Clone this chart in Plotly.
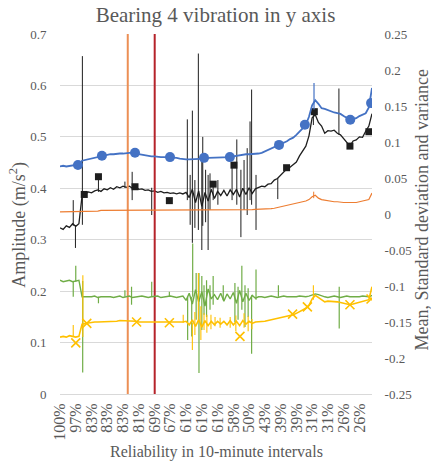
import plotly.graph_objects as go

# ---------------- data ----------------
x_tick_idx = [0, 5, 10, 15, 20, 25, 30, 35, 40, 45, 50, 55, 60, 65, 70, 75, 80, 85, 90, 95]
x_tick_labels = ["100%", "97%", "83%", "83%", "83%", "81%", "69%", "67%", "61%", "61%",
                 "61%", "58%", "50%", "43%", "39%", "39%", "31%", "31%", "26%", "26%"]

left_tickvals = [0, 0.1, 0.2, 0.3, 0.4, 0.5, 0.6, 0.7]
left_ticktext = ["0", "0.1", "0.2", "0.3", "0.4", "0.5", "0.6", "0.7"]
right_tickvals = [-0.25, -0.2, -0.15, -0.1, -0.05, 0, 0.05, 0.1, 0.15, 0.2, 0.25]
right_ticktext = ["-0.25", "-0.2", "-0.15", "-0.1", "-0.05", "0", "0.05", "0.1", "0.15", "0.2", "0.25"]

# amplitude (left axis)
black = [0.323, 0.320, 0.327, 0.324, 0.331, 0.326, 0.331, 0.385, 0.389, 0.393,
         0.391, 0.395, 0.397, 0.394, 0.399, 0.397, 0.401, 0.398, 0.403, 0.401,
         0.404, 0.402, 0.404, 0.400, 0.403, 0.398, 0.399, 0.396, 0.397, 0.394,
         0.395, 0.392, 0.394, 0.391, 0.392, 0.390, 0.391, 0.389, 0.391, 0.389,
         0.392, 0.382, 0.398, 0.372, 0.395, 0.365, 0.392, 0.375, 0.398, 0.380,
         0.394, 0.386, 0.396, 0.385, 0.397, 0.388, 0.398, 0.383, 0.400, 0.388,
         0.401, 0.390, 0.399, 0.401, 0.404, 0.403, 0.408, 0.409, 0.416, 0.419,
         0.426, 0.432, 0.438, 0.441, 0.447, 0.451, 0.463, 0.472, 0.482, 0.502,
         0.537, 0.543, 0.528, 0.521, 0.507, 0.512, 0.511, 0.513, 0.507, 0.504,
         0.496, 0.490, 0.482, 0.492, 0.494, 0.500, 0.499, 0.511, 0.521, 0.545]
black_spike_x = [4.2, 4.9, 7.1, 12.2, 20.6, 22.9, 29.1, 40.4, 41.3, 42.0, 42.8, 43.9, 45.0,
                 45.3, 46.2, 47.0, 47.6, 48.6, 50.1, 54.6, 56.1, 57.4, 58.4, 59.4, 60.3,
                 60.8, 62.2, 69.1, 80.4, 88.5]
black_spike_lo = [0.327, 0.284, 0.329, 0.393, 0.401, 0.377, 0.348, 0.377, 0.329, 0.294, 0.323,
                  0.319, 0.280, 0.327, 0.334, 0.280, 0.358, 0.377, 0.368, 0.377, 0.368, 0.305,
                  0.358, 0.348, 0.377, 0.368, 0.319, 0.379, 0.523, 0.504]
black_spike_hi = [0.377, 0.327, 0.657, 0.423, 0.413, 0.432, 0.401, 0.534, 0.426, 0.551, 0.416,
                  0.662, 0.455, 0.500, 0.436, 0.426, 0.429, 0.408, 0.416, 0.445, 0.495, 0.436,
                  0.455, 0.478, 0.530, 0.592, 0.426, 0.420, 0.556, 0.594]
black_mark_x = [7.7, 12.2, 23.8, 34.7, 48.6, 55.2, 71.9, 80.7, 92.0, 98.0]
black_mark_y = [0.388, 0.4225, 0.403, 0.376, 0.408, 0.445, 0.440, 0.549, 0.482, 0.510]

# mean / std / variance (right axis)
blue = [0.066, 0.067, 0.066, 0.067, 0.068, 0.068, 0.069, 0.074, 0.075, 0.076,
        0.078, 0.079, 0.080, 0.081, 0.081, 0.082, 0.083, 0.083, 0.084, 0.084,
        0.084, 0.085, 0.085, 0.085, 0.085, 0.083, 0.082, 0.081, 0.080, 0.080,
        0.080, 0.079, 0.079, 0.079, 0.079, 0.079, 0.079, 0.078, 0.077, 0.076,
        0.076, 0.076, 0.076, 0.077, 0.077, 0.077, 0.077, 0.078, 0.078, 0.078,
        0.079, 0.078, 0.079, 0.079, 0.079, 0.080, 0.081, 0.081, 0.082, 0.083,
        0.083, 0.083, 0.084, 0.084, 0.085, 0.087, 0.089, 0.091, 0.093, 0.094,
        0.096, 0.099, 0.101, 0.104, 0.106, 0.110, 0.114, 0.119, 0.124, 0.135,
        0.151, 0.158, 0.153, 0.147, 0.146, 0.144, 0.142, 0.141, 0.140, 0.139,
        0.136, 0.133, 0.131, 0.132, 0.133, 0.136, 0.138, 0.140, 0.148, 0.175]
blue_spike_x = [80.6]
blue_spike_lo = [0.145]
blue_spike_hi = [0.182]
blue_mark_x = [5.7, 13.3, 23.8, 34.9, 45.7, 53.9, 69.5, 77.7, 92.1, 98.7]
blue_mark_y = [0.068, 0.081, 0.085, 0.079, 0.078, 0.079, 0.096, 0.124, 0.131, 0.154]

orange = [0.003, 0.003, 0.003, 0.003, 0.003, 0.003, 0.003, 0.004, 0.004, 0.004,
          0.004, 0.004, 0.004, 0.005, 0.005, 0.005, 0.005, 0.005, 0.005, 0.005,
          0.005, 0.006, 0.006, 0.006, 0.006, 0.006, 0.006, 0.006, 0.006, 0.006,
          0.006, 0.006, 0.006, 0.006, 0.006, 0.006, 0.006, 0.006, 0.006, 0.006,
          0.006, 0.006, 0.006, 0.006, 0.006, 0.006, 0.006, 0.006, 0.006, 0.006,
          0.006, 0.006, 0.006, 0.006, 0.006, 0.006, 0.006, 0.006, 0.006, 0.006,
          0.006, 0.006, 0.0065, 0.0065, 0.0065, 0.0065, 0.007, 0.0075, 0.008, 0.009,
          0.0095, 0.010, 0.011, 0.012, 0.013, 0.014, 0.015, 0.016, 0.018, 0.020,
          0.024, 0.026, 0.022, 0.020, 0.019, 0.019, 0.018, 0.017, 0.017, 0.016,
          0.016, 0.016, 0.0155, 0.016, 0.016, 0.017, 0.017, 0.018, 0.020, 0.029]
orange_spike_x = [80.5]
orange_spike_lo = [0.022]
orange_spike_hi = [0.031]

green = [-0.092, -0.094, -0.093, -0.092, -0.094, -0.093, -0.092, -0.115, -0.115, -0.116,
         -0.115, -0.114, -0.116, -0.115, -0.115, -0.114, -0.115, -0.116, -0.115, -0.114,
         -0.116, -0.115, -0.114, -0.116, -0.115, -0.115, -0.114, -0.115, -0.116, -0.115,
         -0.115, -0.114, -0.116, -0.115, -0.115, -0.114, -0.115, -0.116, -0.115, -0.114,
         -0.120, -0.110, -0.125, -0.105, -0.122, -0.108, -0.128, -0.104, -0.118, -0.112,
         -0.119, -0.110, -0.121, -0.111, -0.118, -0.109, -0.124, -0.106, -0.122, -0.110,
         -0.120, -0.113, -0.117, -0.115, -0.115, -0.116, -0.115, -0.114, -0.115, -0.116,
         -0.115, -0.114, -0.115, -0.115, -0.116, -0.115, -0.114, -0.115, -0.115, -0.114,
         -0.113, -0.111, -0.112, -0.114, -0.115, -0.116, -0.115, -0.114, -0.115, -0.116,
         -0.115, -0.114, -0.115, -0.115, -0.116, -0.115, -0.114, -0.115, -0.115, -0.113]
green_spike_x = [4.2, 5.0, 7.2, 12.2, 20.6, 22.7, 29.1, 34.7, 40.5, 41.8, 42.1, 43.2, 44.1,
                 45.0, 45.7, 46.5, 47.6, 48.6, 51.8, 55.5, 56.5, 57.7, 58.7, 59.7, 60.8,
                 62.2, 69.3, 88.6]
green_spike_lo = [-0.115, -0.094, -0.220, -0.124, -0.115, -0.126, -0.115, -0.115, -0.175,
                  -0.170, -0.115, -0.147, -0.221, -0.161, -0.140, -0.143, -0.133, -0.126,
                  -0.119, -0.150, -0.147, -0.133, -0.157, -0.143, -0.194, -0.119, -0.115,
                  -0.159]
green_spike_hi = [-0.093, -0.072, -0.093, -0.115, -0.106, -0.101, -0.094, -0.108, -0.115,
                  -0.115, -0.041, -0.082, -0.082, -0.086, -0.099, -0.092, -0.099, -0.086,
                  -0.099, -0.096, -0.101, -0.072, -0.099, -0.103, -0.113, -0.077, -0.099,
                  -0.101]

yellow = [-0.171, -0.170, -0.171, -0.169, -0.170, -0.171, -0.170, -0.153, -0.152, -0.151,
          -0.151, -0.150, -0.150, -0.150, -0.150, -0.149, -0.149, -0.149, -0.149, -0.148,
          -0.148, -0.148, -0.148, -0.149, -0.149, -0.150, -0.150, -0.150, -0.151, -0.151,
          -0.151, -0.151, -0.151, -0.151, -0.151, -0.151, -0.150, -0.151, -0.151, -0.150,
          -0.149, -0.154, -0.147, -0.156, -0.147, -0.157, -0.148, -0.155, -0.149, -0.154,
          -0.149, -0.153, -0.149, -0.154, -0.148, -0.154, -0.149, -0.155, -0.148, -0.153,
          -0.149, -0.152, -0.150, -0.150, -0.149, -0.149, -0.148, -0.147, -0.147, -0.146,
          -0.145, -0.143, -0.142, -0.141, -0.140, -0.138, -0.136, -0.134, -0.131, -0.127,
          -0.118, -0.113, -0.116, -0.120, -0.122, -0.121, -0.121, -0.122, -0.122, -0.123,
          -0.124, -0.125, -0.126, -0.125, -0.124, -0.123, -0.122, -0.121, -0.119, -0.101]
yellow_spike_x = [4.2, 7.25, 39.1, 42.0, 42.8, 43.9, 44.7, 45.7, 46.6, 47.9, 49.2, 50.8,
                  54.0, 55.8, 58.4, 59.7, 60.9, 80.4]
yellow_spike_lo = [-0.171, -0.171, -0.151, -0.189, -0.168, -0.150, -0.175, -0.161, -0.165,
                   -0.160, -0.156, -0.158, -0.158, -0.163, -0.158, -0.163, -0.160, -0.119]
yellow_spike_hi = [-0.154, -0.085, -0.140, -0.151, -0.136, -0.082, -0.128, -0.138, -0.140,
                   -0.140, -0.143, -0.144, -0.143, -0.141, -0.138, -0.142, -0.146, -0.099]
yellow_mark_x = [5.0, 8.5, 24.3, 34.7, 57.1, 73.8, 78.5, 92.0, 98.7]
yellow_mark_y = [-0.179, -0.152, -0.150, -0.151, -0.170, -0.139, -0.129, -0.126, -0.118]

# vertical reference lines (x position in interval index)
vline_x = [21.5, 30.05]
vline_colors = ["#EC8F55", "#B5232A"]

# ---------------- figure ----------------
idx = list(range(len(black)))

C_BLUE = "#4472C4"
C_BLACK = "#1E1E1E"
C_ORANGE = "#ED7D31"
C_GREEN = "#70AD47"
C_YELLOW = "#FFC000"
FONT = "Liberation Serif, Times New Roman, serif"
TXT = "#595959"


def spikes(xs, lo, hi):
    sx, sy = [], []
    for a, b, c in zip(xs, lo, hi):
        sx += [a, a, None]
        sy += [b, c, None]
    return sx, sy


fig = go.Figure()

# right axis series
fig.add_trace(go.Scatter(x=idx, y=orange, mode="lines", yaxis="y2",
                         line=dict(color=C_ORANGE, width=1.2)))
sx, sy = spikes(orange_spike_x, orange_spike_lo, orange_spike_hi)
fig.add_trace(go.Scatter(x=sx, y=sy, mode="lines", yaxis="y2",
                         line=dict(color=C_ORANGE, width=1)))

fig.add_trace(go.Scatter(x=idx, y=blue, mode="lines", yaxis="y2",
                         line=dict(color=C_BLUE, width=1.8)))
sx, sy = spikes(blue_spike_x, blue_spike_lo, blue_spike_hi)
fig.add_trace(go.Scatter(x=sx, y=sy, mode="lines", yaxis="y2",
                         line=dict(color=C_BLUE, width=1.2)))

fig.add_trace(go.Scatter(x=idx, y=green, mode="lines", yaxis="y2",
                         line=dict(color=C_GREEN, width=1.4)))
sx, sy = spikes(green_spike_x, green_spike_lo, green_spike_hi)
fig.add_trace(go.Scatter(x=sx, y=sy, mode="lines", yaxis="y2",
                         line=dict(color=C_GREEN, width=1.2)))

fig.add_trace(go.Scatter(x=idx, y=yellow, mode="lines", yaxis="y2",
                         line=dict(color=C_YELLOW, width=1.6)))
sx, sy = spikes(yellow_spike_x, yellow_spike_lo, yellow_spike_hi)
fig.add_trace(go.Scatter(x=sx, y=sy, mode="lines", yaxis="y2",
                         line=dict(color=C_YELLOW, width=1.1)))

# left axis series
fig.add_trace(go.Scatter(x=idx, y=black, mode="lines", yaxis="y",
                         line=dict(color=C_BLACK, width=1.3)))
sx, sy = spikes(black_spike_x, black_spike_lo, black_spike_hi)
fig.add_trace(go.Scatter(x=sx, y=sy, mode="lines", yaxis="y",
                         line=dict(color=C_BLACK, width=1.0)))

# markers
fig.add_trace(go.Scatter(x=blue_mark_x, y=blue_mark_y, mode="markers", yaxis="y2",
                         marker=dict(symbol="circle", size=10, color=C_BLUE)))
fig.add_trace(go.Scatter(x=black_mark_x, y=black_mark_y, mode="markers", yaxis="y",
                         marker=dict(symbol="square", size=7, color=C_BLACK)))
fig.add_trace(go.Scatter(x=yellow_mark_x, y=yellow_mark_y, mode="markers", yaxis="y2",
                         marker=dict(symbol="x-thin", size=9,
                                     line=dict(color=C_YELLOW, width=1.6))))

# vertical lines
for vx, vc in zip(vline_x, vline_colors):
    fig.add_trace(go.Scatter(x=[vx, vx], y=[0, 0.7], mode="lines", yaxis="y",
                             line=dict(color=vc, width=2)))

fig.update_layout(
    width=431, height=466,
    margin=dict(l=60, r=59, t=34, b=72),
    paper_bgcolor="white", plot_bgcolor="white",
    showlegend=False,
    font=dict(family=FONT, color=TXT, size=13),
    title=dict(text="Bearing 4 vibration in y axis", x=0.5, xanchor="center",
               y=1 - 15 / 466, yanchor="middle", yref="container",
               font=dict(family=FONT, size=21, color=TXT)),
    xaxis=dict(range=[0, 99], tickmode="array", tickvals=x_tick_idx, ticktext=x_tick_labels,
               tickangle=-90, tickfont=dict(size=16, family=FONT, color=TXT),
               showgrid=False, zeroline=False, showline=True, linecolor="#D9D9D9",
               linewidth=1, ticks="outside", ticklen=2, tickcolor="rgba(0,0,0,0)"),
    yaxis=dict(range=[0, 0.7], tickmode="array", tickvals=left_tickvals, ticktext=left_ticktext,
               showgrid=True, gridcolor="#D9D9D9", gridwidth=1, zeroline=False,
               showline=False, ticks="outside", ticklen=10, tickcolor="rgba(0,0,0,0)",
               tickfont=dict(size=13, family=FONT, color=TXT)),
    yaxis2=dict(range=[-0.25, 0.25], overlaying="y", side="right", tickmode="array",
                tickvals=right_tickvals, ticktext=right_ticktext, showgrid=False,
                zeroline=False, showline=False, ticks="outside", ticklen=9,
                tickcolor="rgba(0,0,0,0)", tickfont=dict(size=13, family=FONT, color=TXT)),
    annotations=[
        dict(text="Reliability in 10-minute intervals", xref="paper", yref="paper",
             x=0.5, y=(394 - 452) / 360, xanchor="center", yanchor="middle",
             showarrow=False, font=dict(family=FONT, size=16, color=TXT)),
        dict(text="Amplitude (m/s<sup>2</sup>)", xref="paper", yref="paper",
             x=(18 - 60) / 312, y=0.47, xanchor="center", yanchor="middle", textangle=-90,
             showarrow=False, font=dict(family=FONT, size=18, color=TXT)),
        dict(text="Mean, Standard deviation and variance", xref="paper", yref="paper",
             x=(422 - 60) / 312, y=0.51, xanchor="center", yanchor="middle", textangle=-90,
             showarrow=False, font=dict(family=FONT, size=18, color=TXT)),
    ],
)

fig.write_html("out.html")
